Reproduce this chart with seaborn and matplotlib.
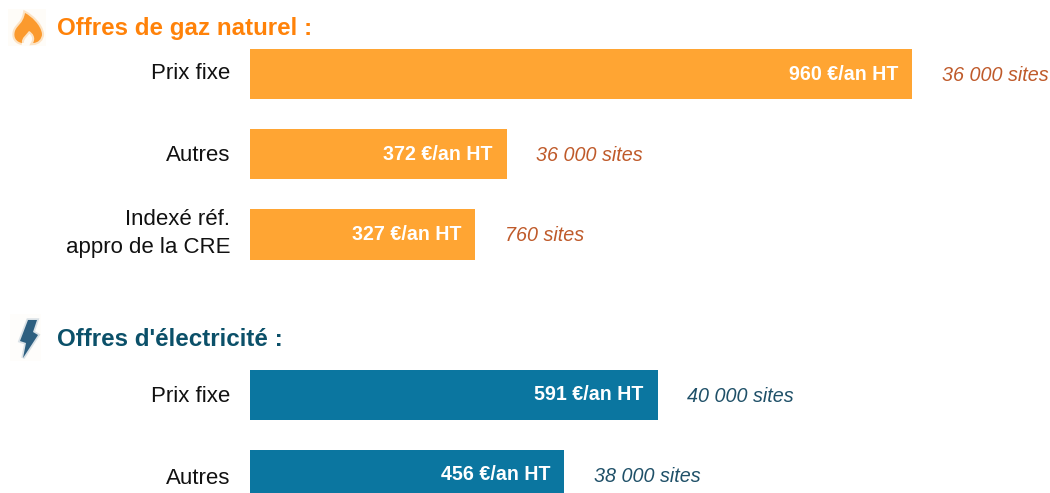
import matplotlib
matplotlib.use("Agg")
import matplotlib.pyplot as plt
from matplotlib.patches import PathPatch, Polygon, Rectangle
from matplotlib.path import Path
from matplotlib.transforms import ScaledTranslation
import pandas as pd
import seaborn as sns

# rows of the chart, "vide" is the empty row holding the electricity heading
lignes = ["gaz_fixe", "gaz_autres", "gaz_indexe", "vide", "elec_fixe", "elec_autres"]
etiquettes = ["Prix fixe", "Autres", "Indexé réf.\nappro de la CRE", "", "Prix fixe", "Autres"]

ids = ["gaz_fixe", "gaz_autres", "gaz_indexe", "elec_fixe", "elec_autres"]
groupes = ["gaz", "gaz", "gaz", "elec", "elec"]
couts = [960, 372, 327, 591, 456]
sites = ["36 000 sites", "36 000 sites", "760 sites", "40 000 sites", "38 000 sites"]

ORANGE = "#FFA533"
BLEU = "#0B76A0"
couleurs_sites = {"gaz": "#BF5A2A", "elec": "#1F5068"}

sns.set_theme(style="white")
plt.rcParams["font.family"] = ["Liberation Sans", "DejaVu Sans"]

W, H = 1050, 493
fig = plt.figure(figsize=(W / 100, H / 100), dpi=100)
ax = fig.add_axes([250 / W, 0, 800 / W, 1])

df = pd.DataFrame({"id": ids, "groupe": groupes, "cout": couts})
sns.barplot(data=df, x="cout", y="id", order=lignes, hue="groupe",
            palette={"gaz": ORANGE, "elec": BLEU}, dodge=False, width=0.63,
            saturation=1, legend=False, linewidth=0, ax=ax)

# 0.6896 px per euro, 80.1 px between rows
ax.set_xlim(0, 800 / 0.6896)
ax.set_ylim((H - 74) / 80.2, -74 / 80.2)
ax.set_xlabel("")
ax.set_ylabel("")
ax.set_xticks([])
ax.set_yticks(range(len(lignes)))
ax.set_yticklabels(etiquettes, fontsize=16, color="#111111", ma="right", linespacing=1.45)
ax.tick_params(axis="y", length=0, pad=14.4)
sns.despine(ax=ax, left=True, bottom=True)

# the row labels do not sit exactly on the bar centres in the original
decalages = [3, 1, 7, 0, 1, -1.5]
for lab, d in zip(ax.get_yticklabels(), decalages):
    lab.set_transform(lab.get_transform() + ScaledTranslation(0, d / 100, fig.dpi_scale_trans))

for i, c, g, s in zip(ids, couts, groupes, sites):
    y = lignes.index(i)
    ax.annotate(f"{c} €/an HT", (c, y), xytext=(-10, 0), textcoords="offset points",
                ha="right", va="center", color="white", fontsize=14.1, fontweight="bold")
    ax.annotate(s, (c, y), xytext=(21.5, -1), textcoords="offset points",
                ha="left", va="center", color=couleurs_sites[g], fontsize=14.2, style="italic",
                annotation_clip=False)

fig.text(57 / W, 1 - 28.5 / H, "Offres de gaz naturel :", color="#FF8209", fontsize=17.4,
         fontweight="bold", va="center", ha="left")
fig.text(57 / W, 1 - 339.5 / H, "Offres d'électricité :", color="#0B5069", fontsize=17.4,
         fontweight="bold", va="center", ha="left")

# icons, in figure pixels
over = fig.add_axes([0, 0, 1, 1], facecolor="none")
over.set_xlim(0, W)
over.set_ylim(H, 0)
over.axis("off")
over.add_patch(Rectangle((8, 9), 38, 37, fc="#FEFCF8", ec="none", zorder=1))
over.add_patch(Rectangle((10, 314), 31, 47, fc="#FEFDFB", ec="none", zorder=1))

C = Path.CURVE4
flamme = Path(
    [(22, 43), (16, 42), (13, 37), (15, 31), (17, 25), (23, 24), (25, 13),
     (31, 16), (41, 25), (42, 34), (42, 39), (38, 43), (33, 43),
     (36, 38), (33, 33), (29, 31), (27, 34), (21, 38), (22, 43)],
    [Path.MOVETO, C, C, C, C, C, C, C, C, C, C, C, C, C, C, C, C, C, C],
)
over.add_patch(PathPatch(flamme, fc="none", ec="#FCCB92", lw=3, alpha=0.5, zorder=2))
over.add_patch(PathPatch(flamme, fc="#FB9A2E", ec="none", zorder=3))

eclair = [(28, 320), (37, 320), (33, 332), (38, 335), (23, 358), (26, 343), (20, 341)]
over.add_patch(Polygon(eclair, closed=True, fc="none", ec="#B5C6D2", lw=2.5, alpha=0.5, zorder=2))
over.add_patch(Polygon(eclair, closed=True, fc="#2D5F80", ec="none", zorder=3))

fig.savefig("out.png", dpi=100)
